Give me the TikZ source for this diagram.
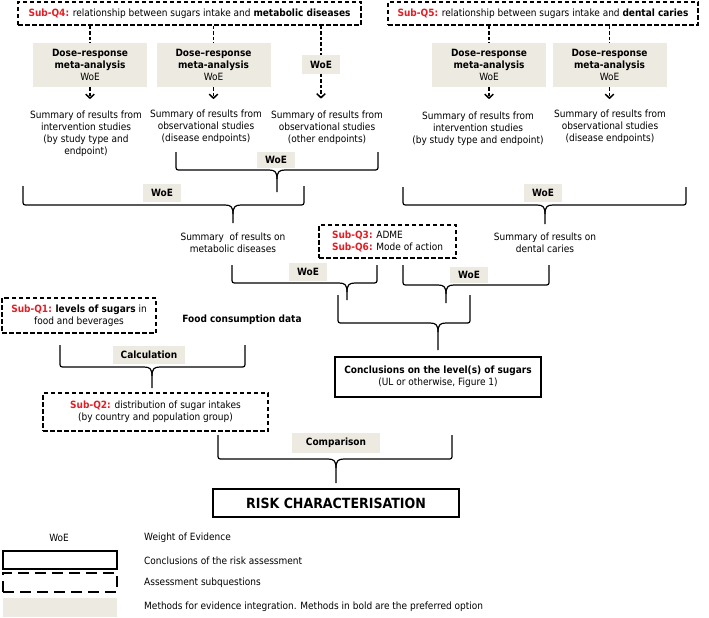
\documentclass[tikz,border=0pt]{standalone}
\usepackage{fontspec}
\setmainfont{DejaVu Sans Condensed}
\usepackage{tikz}
\usetikzlibrary{arrows.meta}

\definecolor{subred}{RGB}{226,30,36}
\definecolor{methgray}{RGB}{237,235,225}
\newcommand{\sq}[1]{\textcolor{subred}{\textbf{#1}}}
% curly bracket: left, top, bar, right, tip x, tip y
\newcommand{\sbrace}[6]{%
	\draw[brc] (#1,#2) -- (#1,#3-5) .. controls (#1,#3) .. (#1+5,#3) -- (#5-8,#3) .. controls (#5-2,#3) and (#5,#3+2) .. (#5,#3+9) -- (#5,#6);
	\draw[brc] (#4,#2) -- (#4,#3-5) .. controls (#4,#3) .. (#4-5,#3) -- (#5+8,#3) .. controls (#5+2,#3) and (#5,#3+2) .. (#5,#3+9);
}

\begin{document}
\begin{tikzpicture}[x=1pt,y=-1pt,
	subq/.style={draw,line width=1.4pt,dash pattern=on 4.5pt off 2.5pt,inner sep=0pt,align=center},
	concl/.style={draw,line width=1.5pt,inner sep=0pt,align=center},
	meth/.style={fill=methgray,inner sep=0pt,align=center,font=\bfseries},
	methbig/.style={meth,minimum width=114pt,minimum height=44pt},
	woe/.style={meth,minimum width=38pt,minimum height=18pt},
	summ/.style={align=center,inner sep=0pt},
	dline/.style={line width=1.5pt,dash pattern=on 3.5pt off 2pt},
	darrow/.style={dline,-{Straight Barb[length=4pt,width=8.5pt]}},
	brc/.style={line width=1.2pt},
	legtext/.style={anchor=west,inner sep=0pt}
]
	\useasboundingbox (0,0) rectangle (709,618);

	% sub-questions on top
	\node[subq,minimum width=343pt,minimum height=23pt] (q4) at (189.5,13.5) {\sq{Sub-Q4:} relationship between sugars intake and \textbf{metabolic diseases}};
	\node[subq,minimum width=310pt,minimum height=23pt] (q5) at (543,13.5) {\sq{Sub-Q5:} relationship between sugars intake and \textbf{dental caries}};

	% methods
	\node[methbig] (m1) at (90,65) {Dose--response\\meta-analysis\\\mdseries WoE};
	\node[methbig] (m2) at (213.5,65) {Dose--response\\meta-analysis\\\mdseries WoE};
	\node[woe] (m3) at (321,64.5) {WoE};
	\node[methbig] (m4) at (489,65) {Dose--response\\meta-analysis\\\mdseries WoE};
	\node[methbig] (m5) at (609.5,65) {Dose--response\\meta-analysis\\\mdseries WoE};

	% summaries
	\node[summ,anchor=north] (s1) at (86,110.5) {Summary of results from\\intervention studies\\(by study type and\\endpoint)};
	\node[summ,anchor=north] (s2) at (206,109.5) {Summary of results from\\observational studies\\(disease endpoints)};
	\node[summ,anchor=north] (s3) at (327,110.5) {Summary of results from\\observational studies\\(other endpoints)};
	\node[summ,anchor=north] (s4) at (478,111.5) {Summary of results from\\intervention studies\\(by study type and endpoint)};
	\node[summ,anchor=north] (s5) at (610,109.5) {Summary of results from\\observational studies\\(disease endpoints)};

	\draw[dline] (q4.south -| m1) -- (m1.north);
	\draw[dline] (q4.south -| m2) -- (m2.north);
	\draw[dline] (q4.south -| m3) -- (m3.north);
	\draw[dline] (q5.south -| m4) -- (m4.north);
	\draw[dline] (q5.south -| m5) -- (m5.north);
	\foreach \m in {m1, m2, m4, m5}{
		\draw[darrow] (\m.south) -- ++(0,12);
	}
	\draw[darrow] (m3.south) -- ++(0,25);

	% first round of brackets
	\sbrace{176}{152}{170}{378}{277}{192}
	\node[woe,minimum height=16pt] (wa) at (276,160) {WoE};
	\sbrace{23}{186}{205}{304}{233}{223}
	\node[woe] (wb) at (162,193) {WoE};
	\sbrace{403}{187}{205}{686}{545}{224}
	\node[woe] (wc) at (543,193) {WoE};

	\node[summ] (smet) at (233,242.5) {Summary\ \ of results on\\metabolic diseases};
	\node[summ] (sden) at (545,243) {Summary of results on\\dental caries};
	\node[subq,minimum width=137pt,minimum height=33pt,align=left] (q36) at (387.5,241.5) {\sq{Sub-Q3:} ADME\\\sq{Sub-Q6:} Mode of action};

	% towards the conclusions
	\sbrace{232}{265}{283}{377}{347}{300}
	\node[woe] (wd) at (308,272) {WoE};
	\sbrace{403}{265}{285}{549}{446}{303}
	\node[woe,minimum height=16pt] (we) at (469,275) {WoE};
	\sbrace{338}{295}{323}{470}{438}{350}
	\node[concl,minimum width=206pt,minimum height=40pt] (conc) at (438,377) {\textbf{Conclusions on the level(s) of sugars}\\(UL or otherwise, Figure 1)};

	% exposure
	\node[subq,minimum width=154pt,minimum height=35pt] (q1) at (79,315.5) {\sq{Sub-Q1:} \textbf{levels of sugars} in\\food and beverages};
	\node[font=\bfseries] (food) at (242,320) {Food consumption data};
	\sbrace{60}{345}{367}{245}{152}{388}
	\node[meth,minimum width=72pt,minimum height=18pt] (calc) at (149,355) {Calculation};
	\node[subq,minimum width=225pt,minimum height=38pt] (q2) at (155.5,412) {\sq{Sub-Q2:} distribution of sugar intakes\\(by country and population group)};

	\sbrace{218}{435}{459}{452}{336}{483}
	\node[meth,minimum width=88pt,minimum height=20pt] (comp) at (336,443) {Comparison};
	\node[concl,minimum width=246pt,minimum height=28pt,font=\fontsize{14}{16}\selectfont\bfseries] (risk) at (336,503) {RISK CHARACTERISATION};

	% legend
	\node (lw) at (59,538) {WoE};
	\node[concl,line width=1.3pt,minimum width=114pt,minimum height=18pt] (lc) at (60,560) {};
	\node[draw,line width=1.3pt,dash pattern=on 11pt off 6pt,minimum width=114pt,minimum height=19pt] (ls) at (60,582.5) {};
	\node[fill=methgray,minimum width=114pt,minimum height=19pt] (lm) at (60,607.5) {};
	\node[legtext] (tw) at (144,538) {Weight of Evidence};
	\node[legtext] (tc) at (144,561) {Conclusions of the risk assessment};
	\node[legtext] (ts) at (144,583) {Assessment subquestions};
	\node[legtext] (tm) at (144,607) {Methods for evidence integration. Methods in bold are the preferred option};

\end{tikzpicture}
\end{document}
